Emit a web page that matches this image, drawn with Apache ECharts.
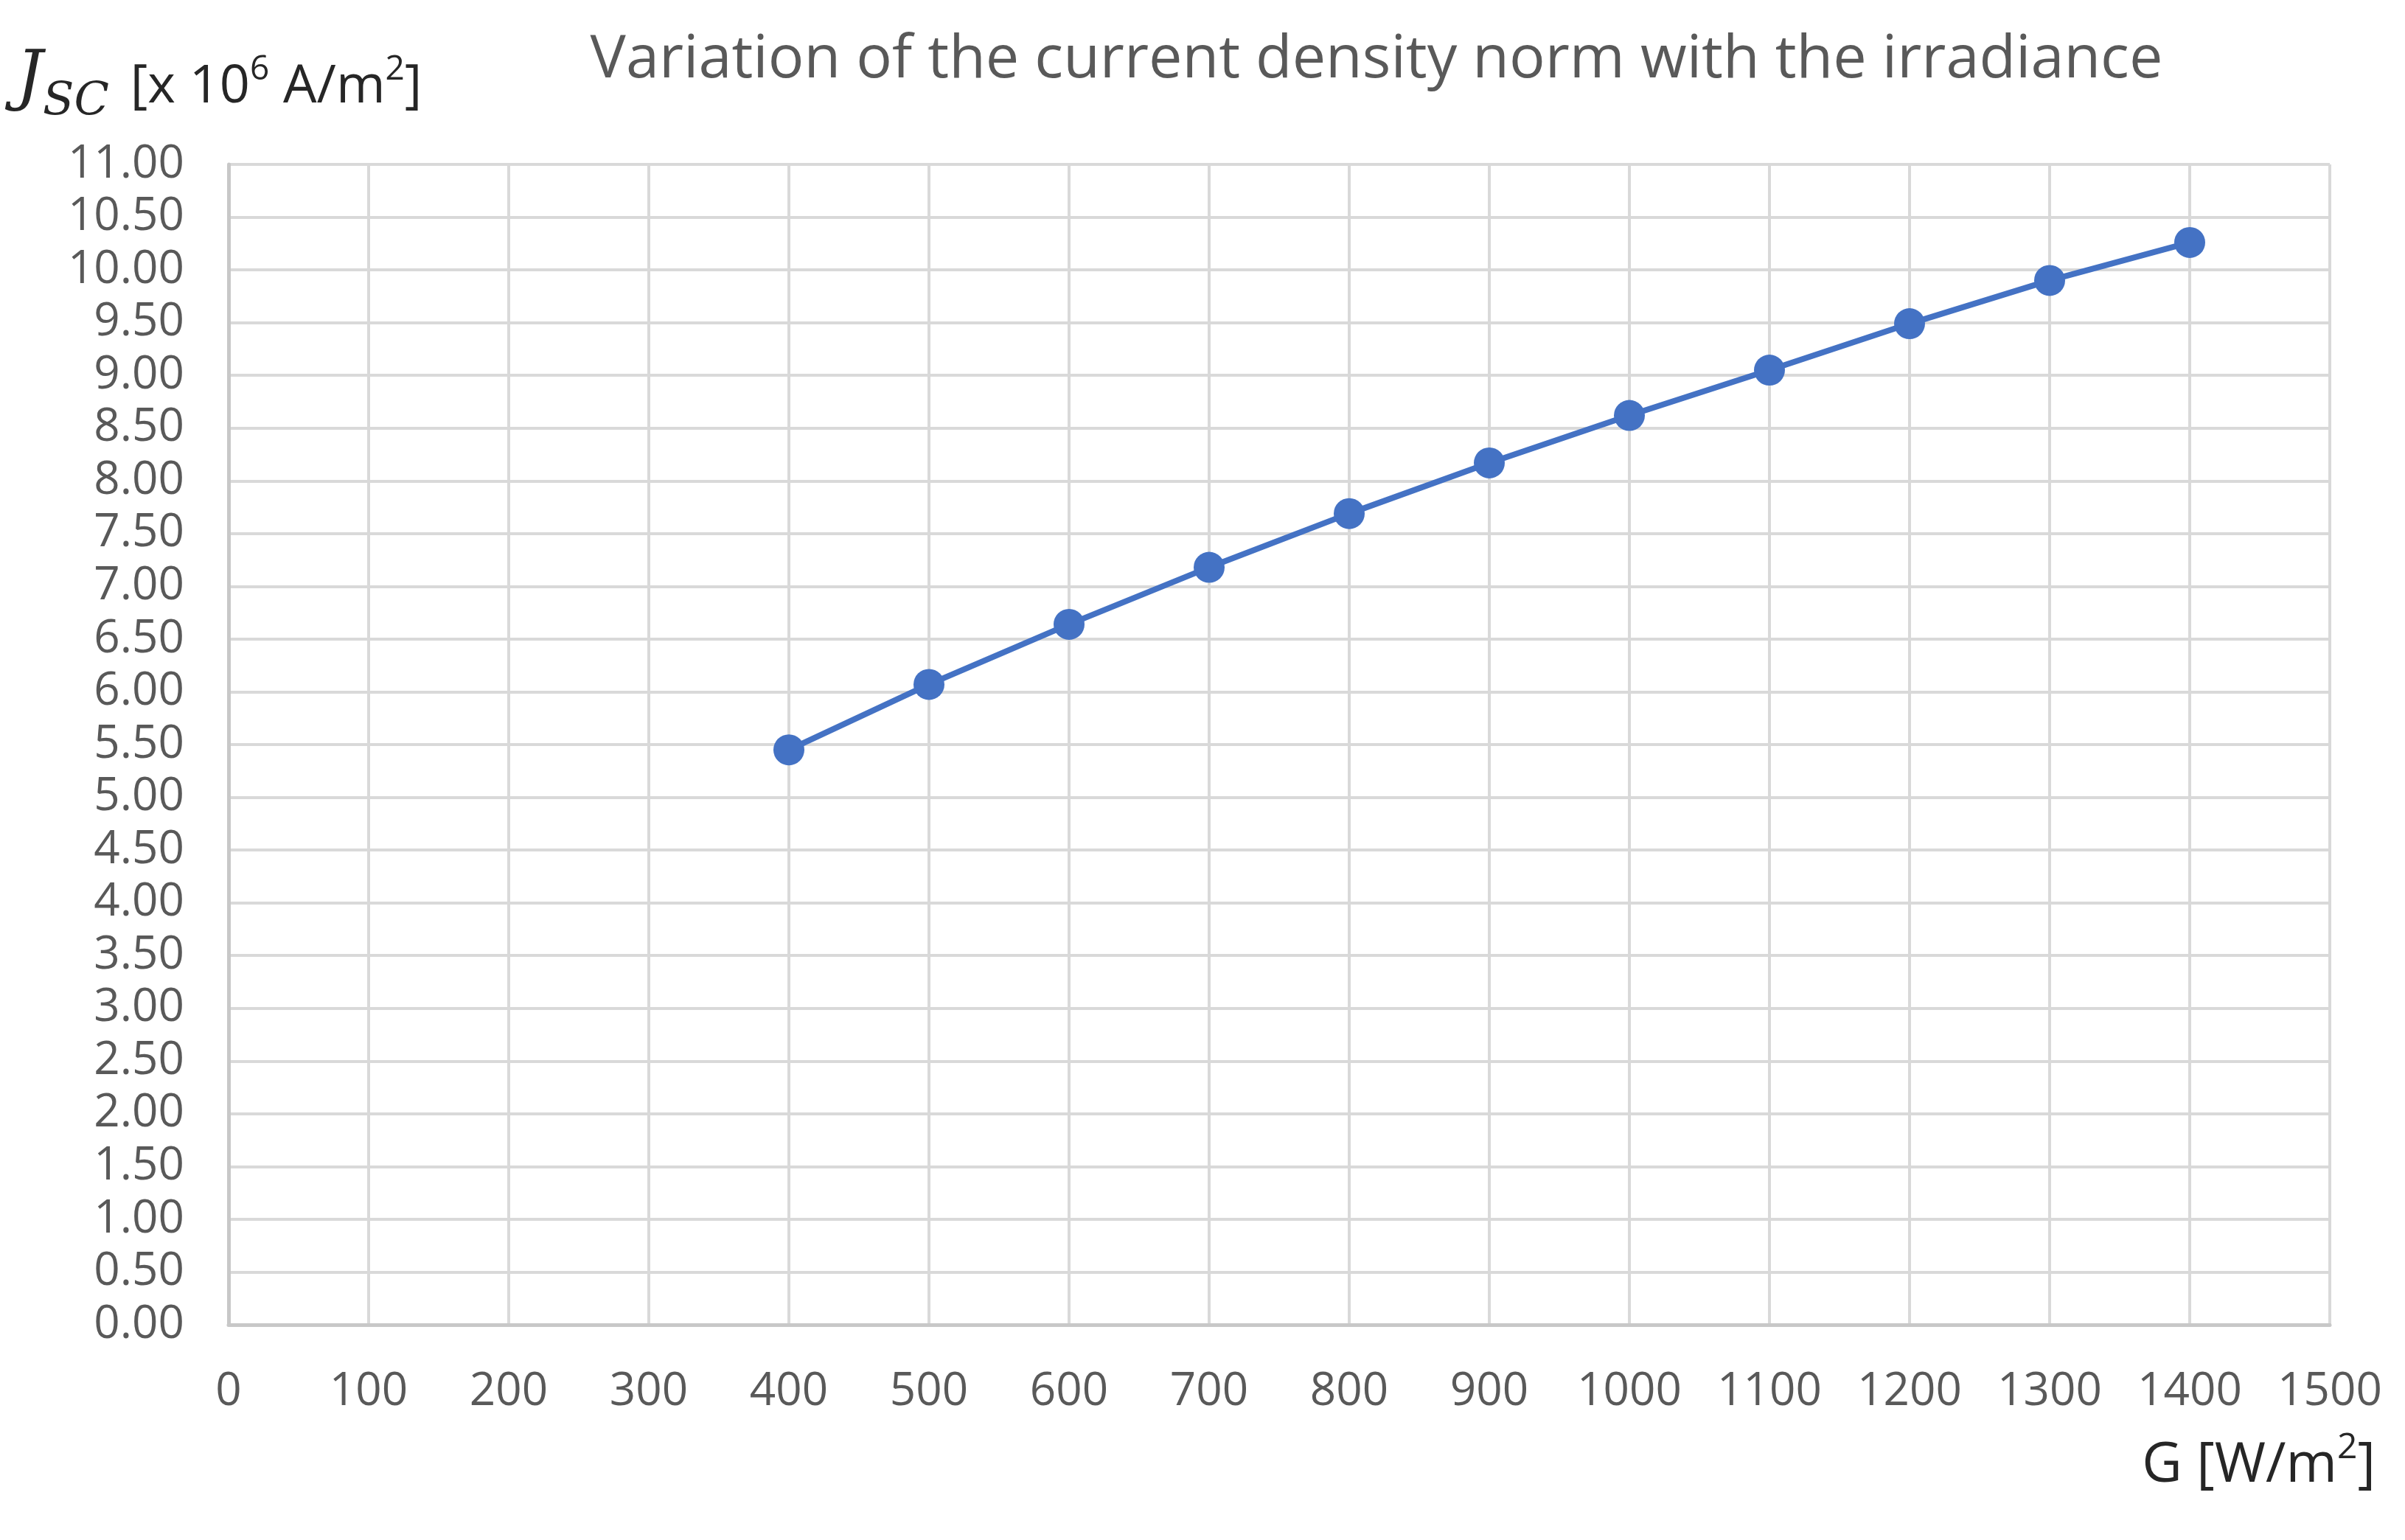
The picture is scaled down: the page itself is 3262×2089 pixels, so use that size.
<!DOCTYPE html>
<html>
<head>
<meta charset="utf-8">
<script src="https://cdn.jsdelivr.net/npm/echarts@6/dist/echarts.min.js"></script>
<style>
html,body{margin:0;padding:0;background:#fff;}
#chart{width:3262px;height:2089px;}
</style>
</head>
<body>
<div id="chart"></div>
<script>
const irradiance = [400, 500, 600, 700, 800, 900, 1000, 1100, 1200, 1300, 1400];
const currentDensity = [5.45, 6.07, 6.64, 7.18, 7.69, 8.17, 8.62, 9.05, 9.49, 9.90, 10.26];
const titleText = 'Variation of the current density norm with the irradiance';

const chart = echarts.init(document.getElementById('chart'));
const FONT = 'Open Sans';
chart.setOption({
  backgroundColor: '#ffffff',
  animation: false,
  title: {
    text: titleText,
    left: 1862, textAlign: 'center',
    top: 36,
    textStyle: {fontFamily: FONT, fontSize: 81, fontWeight: 'normal', color: '#595959'}
  },
  grid: {left: 310, right: 102, top: 223, bottom: 292, containLabel: false},
  xAxis: {
    type: 'value', min: 0, max: 1500, interval: 100,
    axisLine: {show: true, lineStyle: {color: '#c8c8c8', width: 5}},
    axisTick: {show: false},
    splitLine: {show: true, lineStyle: {color: '#d9d9d9', width: 4}},
    axisLabel: {fontFamily: FONT, fontSize: 62, color: '#595959', margin: 60,
      formatter: v => String(v)}
  },
  yAxis: {
    type: 'value', min: 0, max: 11, interval: 0.5,
    axisLine: {show: true, lineStyle: {color: '#c8c8c8', width: 5}},
    axisTick: {show: false},
    splitLine: {show: true, lineStyle: {color: '#d9d9d9', width: 4}},
    axisLabel: {fontFamily: FONT, fontSize: 62, color: '#595959', margin: 60,
      formatter: v => v.toFixed(2)}
  },
  graphic: [
    {
      type: 'text', left: 22, top: 64,
      style: {
        text: '{j|J}{sub|SC}{n| [x 10}{sup|6}{n| A/m}{sup|2}{n|]}',
        rich: {
          j: {fontFamily: 'DejaVu Serif', fontStyle: 'italic', fontSize: 90, fill: '#262626', verticalAlign: 'bottom'},
          sub: {fontFamily: 'DejaVu Serif', fontStyle: 'italic', fontSize: 62, fill: '#262626', verticalAlign: 'bottom', padding: [0, 10, -16, 0]},
          n: {fontFamily: FONT, fontSize: 72, fill: '#262626', verticalAlign: 'bottom'},
          sup: {fontFamily: FONT, fontSize: 46, fill: '#262626', verticalAlign: 'bottom', padding: [0, 0, 36, 0]}
        }
      }
    },
    {
      type: 'text', right: 40, top: 1940,
      style: {
        text: '{n|G [W/m}{sup|2}{n|]}',
        rich: {
          n: {fontFamily: FONT, fontSize: 75, fill: '#262626', verticalAlign: 'bottom'},
          sup: {fontFamily: FONT, fontSize: 48, fill: '#262626', verticalAlign: 'bottom', padding: [0, 0, 38, 0]}
        }
      }
    }
  ],
  series: [{
    type: 'line',
    data: irradiance.map((x, i) => [x, currentDensity[i]]),
    symbol: 'circle', symbolSize: 42,
    lineStyle: {color: '#4472C4', width: 8},
    itemStyle: {color: '#4472C4'}
  }]
});
</script>
</body>
</html>
